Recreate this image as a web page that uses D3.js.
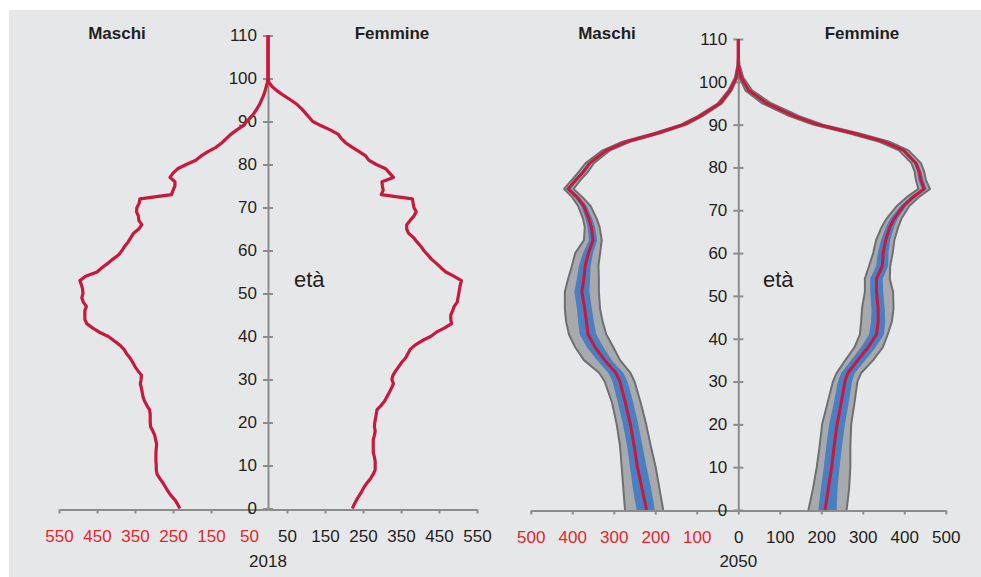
<!DOCTYPE html>
<html>
<head>
<meta charset="utf-8">
<script src="https://cdn.jsdelivr.net/npm/d3@7"></script>
<style>
html,body{margin:0;padding:0;background:#ffffff;}
svg{display:block;font-family:"Liberation Sans",Arial,sans-serif;}
</style>
</head>
<body>
<svg id="chart" width="981" height="577"></svg>
<script>
// ---------------- DATA ----------------
const ages2018 = d3.range(0, 111);
const maschi2018 = [232,238,245,255,263,270,277,285,292,294, 294,295,295,295,294,293,296,298,303,309,
  310,310,310,312,319,325,329,331,333,336, 334,333,342,350,356,363,372,379,390,405,
  420,444,462,477,482,482,482,478,486,490, 487,488,491,495,480,450,437,422,408,393,
  384,377,368,361,354,340,332,340,341,346, 345,339,337,254,250,245,245,258,250,238,
  215,190,176,158,137,122,110,98,83,66, 56,45,36,29,22,17,12,8,5,2,
  0,0,0,0,0,0,0,0,0,0,0];
const femmine2018 = [222,227,233,240,247,253,261,270,277,282, 282,282,280,277,277,277,277,280,282,280,
  281,283,285,287,298,307,313,319,325,330, 326,329,336,344,352,362,368,374,387,405,
  428,443,465,483,481,481,486,490,498,500, 502,504,506,509,490,468,455,443,430,420,
  410,402,392,383,370,365,365,374,384,390, 384,382,380,298,303,301,300,330,320,310,
  285,265,257,240,222,205,193,185,165,140, 118,108,98,88,76,60,42,26,12,3,
  0,0,0,0,0,0,0,0,0,0,0];

const ages2050 = [0,5,10,15,20,25,30,32,35,38,41,44,47,51,54,57,60,63,66,68,71,73,75,77,79,81,84,86,88,90,92,95,98,101,104,107,110];
const maschi2050Med = [221,232,243,251,260,272,285,295,322,345,362,366,370,377,372,369,361,350,354,360,372,388,410,392,373,358,318,270,196,132,92,44,20,5,0,0,0];
const maschi2050Lo95 = [181,190,199,211,222,235,250,260,285,301,318,327,333,336,336,337,333,329,334,341,356,375,397,381,362,348,309,261,188,125,86,39,16,2,0,0,0];
const maschi2050Hi95 = [273,277,281,285,293,304,322,335,372,393,408,415,418,418,410,401,393,372,370,374,386,400,420,402,384,368,327,279,204,139,98,49,24,8,2,0,0];
const maschi2050Lo50 = [201,210,221,231,241,253,267,277,305,325,342,348,353,359,357,356,350,340,345,352,365,382,404,387,368,354,314,266,193,129,89,42,18,4,0,0,0];
const maschi2050Hi50 = [245,254,261,268,278,290,303,313,340,365,382,386,389,395,389,384,374,360,363,368,379,394,415,397,378,362,322,274,199,135,95,46,22,6,1,0,0];

const femmine2050Med = [209,217,225,231,238,248,257,264,288,313,333,337,337,333,333,347,349,355,365,375,398,420,448,440,436,428,398,352,278,192,135,68,25,7,0,0,0];
const femmine2050Lo95 = [169,180,189,196,202,215,228,237,258,280,293,296,298,305,305,315,325,332,345,357,382,405,434,428,425,417,387,340,266,180,123,57,17,3,0,0,0];
const femmine2050Hi95 = [261,267,270,270,272,280,287,296,325,348,360,370,374,373,365,366,372,376,385,393,412,434,462,452,448,440,410,364,290,204,147,79,33,12,3,0,0];
const femmine2050Lo50 = [193,199,206,212,219,230,240,248,272,296,315,320,321,318,318,332,336,344,355,366,391,413,442,434,431,423,393,347,273,187,130,64,22,5,0,0,0];
const femmine2050Hi50 = [237,239,244,250,257,266,274,281,306,331,351,354,353,349,348,361,362,366,375,384,405,427,454,446,441,433,403,357,283,197,140,72,28,9,1,0,0];

const ageTicks = [0,10,20,30,40,50,60,70,80,90,100,110];
const xTicks2018 = [50,150,250,350,450,550];
const xTicks2050 = [0,100,200,300,400,500];
const sideLabels = ["Maschi","Femmine"];
const ageLabel = "età";
const yearLabels = ["2018","2050"];

// ---------------- DRAWING ----------------
const svg = d3.select("#chart");
const RED = "#c8193c", BLUE = "#4a7fc1", GRAYF = "#a7a9ac", GRAYE = "#6e6f71";
const AXIS = "#8c8c8c", TXT = "#231f20", TRED = "#e8252c";

svg.append("rect").attr("x",9).attr("y",10).attr("width",972).attr("height",567).attr("fill","#e6e7e8");

function panel(cfg){
  const g = svg.append("g");
  const y = d3.scaleLinear().domain([0,110]).range([cfg.y0, cfg.y110]);
  const xm = d3.scaleLinear().domain([0, cfg.max]).range([cfg.cx, cfg.cx - cfg.max*cfg.k]);
  const xf = d3.scaleLinear().domain([0, cfg.max]).range([cfg.cx, cfg.cx + cfg.max*cfg.k]);

  // x axes
  const axM = d3.axisBottom(xm).tickValues(cfg.xticks).tickSizeInner(4).tickSizeOuter(0).tickPadding(16);
  const axF = d3.axisBottom(xf).tickValues(cfg.xticksF).tickSizeInner(4).tickSizeOuter(0).tickPadding(16);
  [[axM,TRED],[axF,TXT]].forEach(([ax,col])=>{
    const a = g.append("g").attr("transform",`translate(0,${cfg.xAxisY})`).call(ax);
    a.select(".domain").attr("stroke",AXIS).attr("stroke-width",2);
    a.selectAll(".tick line").attr("stroke",AXIS).attr("stroke-width",2);
    a.selectAll(".tick text").attr("fill",col).attr("font-size",17).attr("font-family","Liberation Sans, Arial, sans-serif");
  });

  // y axis
  const ay = g.append("g").attr("transform",`translate(${cfg.cx},0)`)
    .call(d3.axisLeft(y).tickValues(ageTicks).tickSizeInner(5).tickSizeOuter(0).tickPadding(6));
  ay.select(".domain").attr("stroke",AXIS).attr("stroke-width",2);
  ay.selectAll(".tick line").attr("stroke",AXIS).attr("stroke-width",2).attr("x2",-5).attr("x1",5);
  ay.selectAll(".tick text").attr("fill",TXT).attr("font-size",17).attr("font-family","Liberation Sans, Arial, sans-serif");

  cfg.draw(g, y, xm, xf);

  // texts
  g.append("text").attr("x",cfg.mx).attr("y",39).attr("text-anchor","middle")
    .attr("font-weight","bold").attr("font-size",17).attr("fill",TXT).text(sideLabels[0]);
  g.append("text").attr("x",cfg.fx).attr("y",39).attr("text-anchor","middle")
    .attr("font-weight","bold").attr("font-size",17).attr("fill",TXT).text(sideLabels[1]);
  g.append("text").attr("x",cfg.etaX).attr("y",287).attr("font-size",22).attr("fill",TXT).text(ageLabel);
  g.append("text").attr("x",cfg.cx).attr("y",567).attr("text-anchor","middle").attr("font-size",17).attr("fill",TXT).text(cfg.year);
}

// 2018 panel
panel({cx:268, k:0.38, max:550, y0:508.5, y110:35.5, xAxisY:509.5,
  xticks:xTicks2018, xticksF:xTicks2018, mx:117, fx:392, etaX:294, year:yearLabels[0],
  draw:(g,y,xm,xf)=>{
    const lm = d3.line().x(d=>xm(d[1])).y(d=>y(d[0]));
    const lf = d3.line().x(d=>xf(d[1])).y(d=>y(d[0]));
    g.append("path").datum(ages2018.map((a,i)=>[a,maschi2018[i]])).attr("d",lm)
      .attr("fill","none").attr("stroke",RED).attr("stroke-width",3.2).attr("stroke-linejoin","round");
    g.append("path").datum(ages2018.map((a,i)=>[a,femmine2018[i]])).attr("d",lf)
      .attr("fill","none").attr("stroke",RED).attr("stroke-width",3.2).attr("stroke-linejoin","round");
  }});

// 2050 panel
panel({cx:738.3, k:0.415, max:500, y0:510, y110:39, xAxisY:510.5,
  xticks:xTicks2050.filter(v=>v>0), xticksF:xTicks2050, mx:607, fx:862, etaX:763, year:yearLabels[1],
  draw:(g,y,xm,xf)=>{
    function band(x, lo95, hi95, lo50, hi50, med){
      const rows = ages2050.map((a,i)=>({a, lo95:lo95[i], hi95:hi95[i], lo50:lo50[i], hi50:hi50[i], med:med[i]}));
      const ar95 = d3.area().y(d=>y(d.a)).x0(d=>x(d.lo95)).x1(d=>x(d.hi95));
      const ar50 = d3.area().y(d=>y(d.a)).x0(d=>x(d.lo50)).x1(d=>x(d.hi50));
      g.append("path").datum(rows).attr("d",ar95).attr("fill",GRAYF);
      ["lo95","hi95"].forEach(key=>{
        g.append("path").datum(rows).attr("d",d3.line().y(d=>y(d.a)).x(d=>x(d[key])))
          .attr("fill","none").attr("stroke",GRAYE).attr("stroke-width",2).attr("stroke-linejoin","round");
      });
      g.append("path").datum(rows).attr("d",ar50).attr("fill",BLUE);
      g.append("path").datum(rows).attr("d",d3.line().y(d=>y(d.a)).x(d=>x(d.med)))
        .attr("fill","none").attr("stroke",RED).attr("stroke-width",3).attr("stroke-linejoin","round");
    }
    band(xm, maschi2050Lo95, maschi2050Hi95, maschi2050Lo50, maschi2050Hi50, maschi2050Med);
    band(xf, femmine2050Lo95, femmine2050Hi95, femmine2050Lo50, femmine2050Hi50, femmine2050Med);
  }});
</script>
</body>
</html>
